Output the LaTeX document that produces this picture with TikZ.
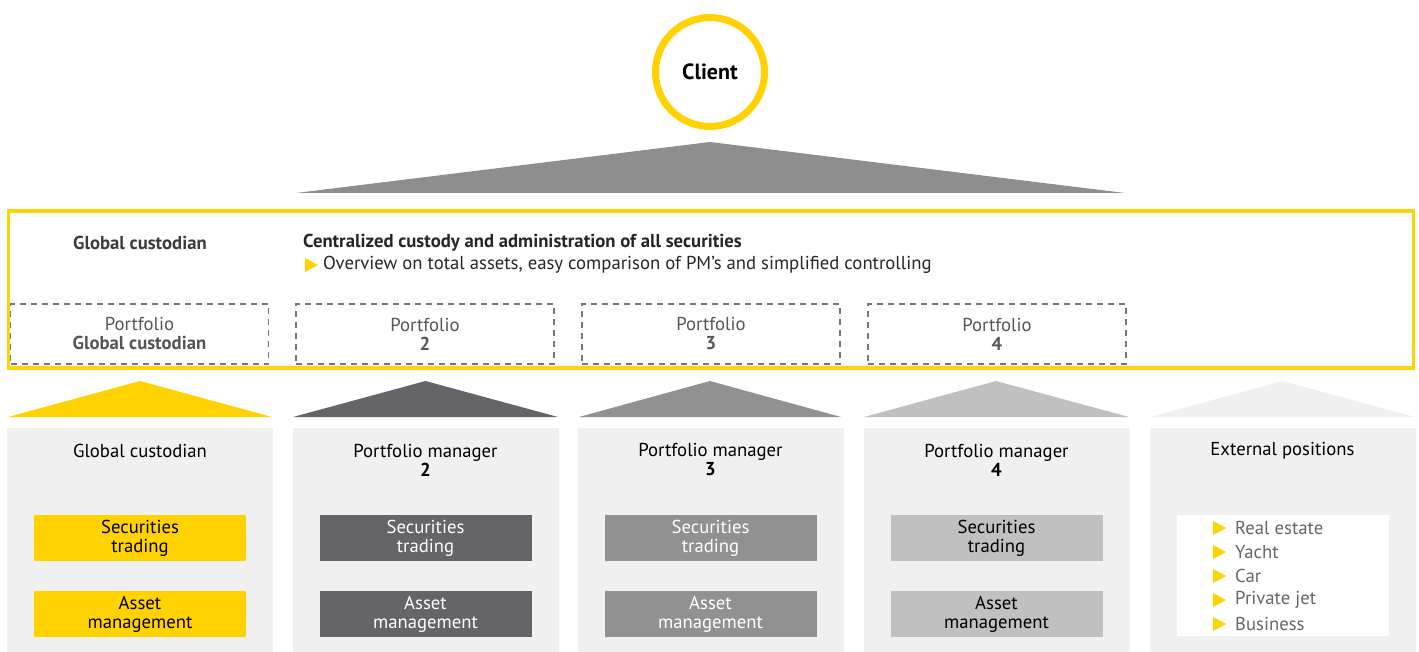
\documentclass[tikz,border=0pt]{standalone}
\usepackage{fontspec}
\setmainfont{PT Sans}
\usetikzlibrary{positioning}

\definecolor{eyyellow}{HTML}{FFD200}
\definecolor{eydark}{HTML}{646469}
\definecolor{eymid}{HTML}{919191}
\definecolor{eylight}{HTML}{C0C0C0}
\definecolor{eypanel}{HTML}{F0F0F0}
\definecolor{eytext}{HTML}{3C3C3C}
\definecolor{eyport}{HTML}{555555}

\tikzset{
  txt/.style={font=\fontsize{18.7}{19}\selectfont, align=center, inner sep=0pt},
  panel/.style={fill=eypanel, minimum width=266pt, minimum height=224pt, inner sep=0pt},
  portbox/.style={txt, draw=eyport!80, dashed, dash pattern=on 6pt off 5pt, line width=1.3pt,
    minimum width=258pt, minimum height=60pt, text=eyport},
  actbox/.style={txt, minimum width=212pt, minimum height=46pt},
  listitem/.style={txt, anchor=west, text=eyport!90},
}

\begin{document}
\begin{tikzpicture}[x=1pt,y=-1pt]
\useasboundingbox (0,0) rectangle (1419,652);

% client on top
\node[txt, circle, draw=eyyellow, line width=7pt, minimum size=109pt, font=\fontsize{22}{24}\selectfont\bfseries] (client) at (710,72) {Client};
\fill[color=eymid!98!black] (296,193) -- (710,142) -- (1125,193) -- cycle;

% global custodian frame
\draw[eyyellow, line width=3.5pt] (8.5,211) rectangle (1413.5,368);
\node[txt, font=\fontsize{18.7}{19}\selectfont\bfseries, text=eytext] (gctitle) at (140,243) {Global custodian};
\node[txt, anchor=west, font=\fontsize{18.7}{19}\selectfont\bfseries, text=black!85] (central) at (303,243) {Centralized custody and administration of all securities};
\node[txt, anchor=west, text=black!85] (overview) at (323,265) {Overview on total assets, easy comparison of PM’s and simplified controlling};
\fill[eyyellow] (305,258) -- (305,272) -- (318,265) -- cycle;

\node[portbox] (port1) at (139.5,334) {Portfolio\\\textbf{Global custodian}};
\node[portbox] (port2) at (425,334) {Portfolio\\\textbf{2}};
\node[portbox] (port3) at (711,334) {Portfolio\\\textbf{3}};
\node[portbox] (port4) at (997,334) {Portfolio\\\textbf{4}};

% roofs
\fill[eyyellow] (8,417) -- (140,381) -- (272,417) -- cycle;
\fill[eydark] (293,417) -- (425.5,381) -- (558,417) -- cycle;
\fill[eymid] (579,417) -- (710,381) -- (841,417) -- cycle;
\fill[eylight] (864,417) -- (996,381) -- (1129,417) -- cycle;
\fill[eypanel] (1150,417) -- (1282.5,381) -- (1415,417) -- cycle;

% panels
\node[panel] (gc) at (140,540) {};
\node[panel] (pm2) at (425.5,540) {};
\node[panel] (pm3) at (710.5,540) {};
\node[panel] (pm4) at (996.5,540) {};
\node[panel] (ext) at (1282.5,540) {};

\node[txt] (gchead) at (140,451) {Global custodian};
\node[txt] (pm2head) at (425.5,460) {Portfolio manager\\\textbf{2}};
\node[txt] (pm3head) at (710.5,460) {Portfolio manager\\\textbf{3}};
\node[txt] (pm4head) at (996.5,460) {Portfolio manager\\\textbf{4}};
\node[txt] (exthead) at (1282.5,451) {External positions};

\node[actbox, fill=eyyellow] (gctrade) at (140,538) {Securities\\trading};
\node[actbox, fill=eyyellow] (gcasset) at (140,614) {Asset\\management};
\node[actbox, fill=eydark, text=white] (pm2trade) at (425.5,538) {Securities\\trading};
\node[actbox, fill=eydark, text=white] (pm2asset) at (425.5,614) {Asset\\management};
\node[actbox, fill=eymid, text=white] (pm3trade) at (710.5,538) {Securities\\trading};
\node[actbox, fill=eymid, text=white] (pm3asset) at (710.5,614) {Asset\\management};
\node[actbox, fill=eylight] (pm4trade) at (996.5,538) {Securities\\trading};
\node[actbox, fill=eylight] (pm4asset) at (996.5,614) {Asset\\management};

% external positions list
\fill[white] (1177,515) rectangle (1389,636);
\node[listitem] (realestate) at (1235,528) {Real estate};
\node[listitem] (yacht) at (1235,552) {Yacht};
\node[listitem] (car) at (1235,576) {Car};
\node[listitem] (jet) at (1235,600) {Private jet};
\node[listitem] (business) at (1235,624) {Business};
\fill[eyyellow] (1213,521) -- (1213,535) -- (1226,528) -- cycle;
\fill[eyyellow] (1213,545) -- (1213,559) -- (1226,552) -- cycle;
\fill[eyyellow] (1213,569) -- (1213,583) -- (1226,576) -- cycle;
\fill[eyyellow] (1213,593) -- (1213,607) -- (1226,600) -- cycle;
\fill[eyyellow] (1213,617) -- (1213,631) -- (1226,624) -- cycle;

\end{tikzpicture}
\end{document}
